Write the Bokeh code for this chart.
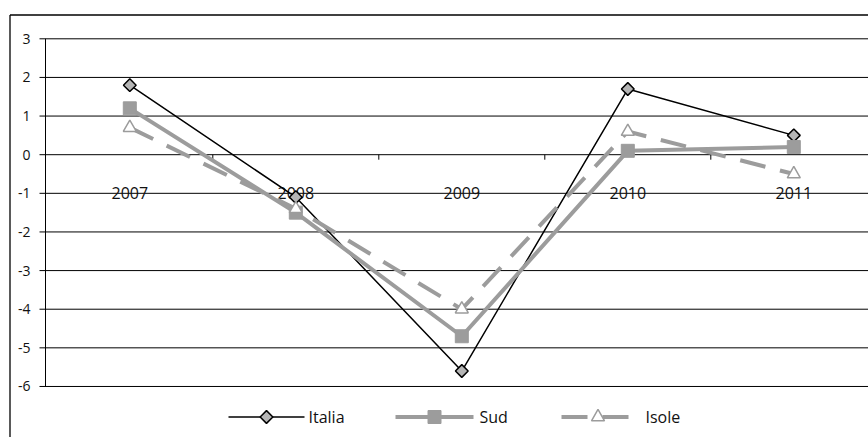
import math

from bokeh.core.properties import value
from bokeh.embed import file_html
from bokeh.models import Range1d
from bokeh.plotting import figure
from bokeh.resources import INLINE

# ---- data -------------------------------------------------------------
years = [2007, 2008, 2009, 2010, 2011]
year_labels = ["2007", "2008", "2009", "2010", "2011"]
italia = [1.8, -1.1, -5.6, 1.7, 0.5]
sud = [1.2, -1.5, -4.7, 0.1, 0.2]
isole = [0.7, -1.4, -4.0, 0.6, -0.5]
series_names = ["Italia", "Sud", "Isole"]
y_ticks = [3, 2, 1, 0, -1, -2, -3, -4, -5, -6]
y_tick_labels = ["3", "2", "1", "0", "-1", "-2", "-3", "-4", "-5", "-6"]

# ---- page geometry (pixels) -------------------------------------------
W, H = 868, 437
PX_PER_YEAR = 166.0
PX_PER_UNIT = 38.63
FIRST_CAT_PX = 129.3      # horizontal pixel of the first category
TOP_TICK_PX = 38.3        # vertical pixel of the top gridline

X_START = years[0] - FIRST_CAT_PX / PX_PER_YEAR
Y_TOP = y_ticks[0] + TOP_TICK_PX / PX_PER_UNIT


def sx(px):
    """horizontal pixel -> data x"""
    return X_START + px / PX_PER_YEAR


def sy(py):
    """vertical pixel (from top) -> data y"""
    return Y_TOP - py / PX_PER_UNIT


FONT = value("Open Sans")
GREY = "#9c9c9c"

# line / marker styles of the three series
styles = {
    "Italia": dict(line=dict(line_color="black", line_width=1.5),
                   marker=dict(marker="square", size=9, angle=math.pi / 4,
                               fill_color="#b5b5b5", line_color="black",
                               line_width=1.5)),
    "Sud": dict(line=dict(line_color=GREY, line_width=4),
                marker=dict(marker="square", size=13, fill_color=GREY,
                            line_color=GREY, line_width=1)),
    "Isole": dict(line=dict(line_color=GREY, line_width=4, line_dash="26 15"),
                  marker=dict(marker="triangle", size=13, fill_color="white",
                              line_color=GREY, line_width=1.5)),
}

p = figure(
    width=W, height=H,
    x_range=Range1d(X_START, X_START + W / PX_PER_YEAR),
    y_range=Range1d(Y_TOP - H / PX_PER_UNIT, Y_TOP),
    x_axis_type=None, y_axis_type=None,
    output_backend="svg", toolbar_location=None,
    min_border=0, outline_line_color=None,
    background_fill_color="white", border_fill_color="white",
)

# outer chart border (left and top edges; the rest runs off the page)
p.segment(x0=[sx(9.5), sx(9.5)], y0=[sy(H + 5), sy(14.5)],
          x1=[sx(9.5), sx(W + 5)], y1=[sy(14.5), sy(14.5)],
          line_color="black", line_width=1.3)

# horizontal gridlines, with the tick stubs left of the value axis
p.segment(x0=sx(39), y0=y_ticks, x1=sx(W + 5), y1=y_ticks,
          line_color="black", line_width=1)
# value axis line
p.segment(x0=sx(45), y0=y_ticks[0], x1=sx(45), y1=y_ticks[-1],
          line_color="black", line_width=1)
# category tick marks hanging from the zero line
bounds = [y + 0.5 for y in years[:-1]]
p.segment(x0=bounds, y0=0, x1=bounds, y1=-5 / PX_PER_UNIT,
          line_color="black", line_width=1)

# value-axis labels
p.text(x=sx(30), y=y_ticks, text=y_tick_labels, text_align="right",
       text_baseline="middle", text_font=FONT, text_font_size="14px",
       text_color="#111111")
# category labels
p.text(x=years, y=sy(192.5), text=year_labels, text_align="center",
       text_baseline="middle", text_font=FONT, text_font_size="16px",
       text_color="#111111")

# ---- series -----------------------------------------------------------
values = {"Italia": italia, "Sud": sud, "Isole": isole}
for name in series_names:
    p.line(years, values[name], **styles[name]["line"])
for name in series_names:
    p.scatter(years, values[name], **styles[name]["marker"])

# ---- legend row drawn as swatches + labels ----------------------------
LEG_Y = sy(416.5)
legend_boxes = {          # swatch left, swatch right, label left (pixels)
    "Italia": (228, 304, 308),
    "Sud": (395, 473, 479),
    "Isole": (561, 634, 645),
}
for name in series_names:
    x0, x1, xl = legend_boxes[name]
    p.segment(x0=sx(x0), y0=LEG_Y, x1=sx(x1), y1=LEG_Y,
              **styles[name]["line"])
    p.scatter(x=[sx((x0 + x1) / 2)], y=[LEG_Y], **styles[name]["marker"])
    p.text(x=[sx(xl)], y=[LEG_Y], text=[name], text_align="left",
           text_baseline="middle", text_font=FONT, text_font_size="16px",
           text_color="#111111")

open("out.html", "w").write(file_html(p, INLINE))
